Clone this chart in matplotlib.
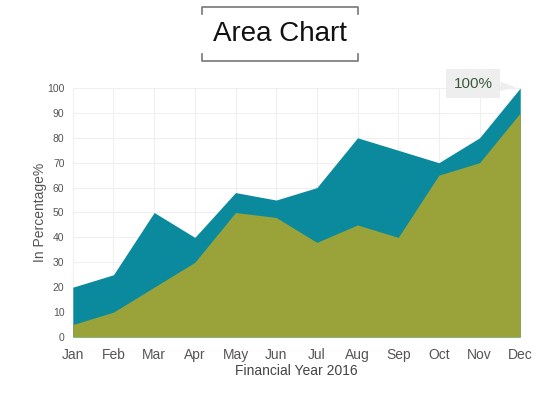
import matplotlib.pyplot as plt
from matplotlib.lines import Line2D

plt.rcParams['font.family'] = ['Liberation Sans', 'DejaVu Sans']

months = ['Jan', 'Feb', 'Mar', 'Apr', 'May', 'Jun',
          'Jul', 'Aug', 'Sep', 'Oct', 'Nov', 'Dec']
series_top = [20, 25, 50, 40, 58, 55, 60, 80, 75, 70, 80, 100]
series_bottom = [5, 10, 20, 30, 50, 48, 38, 45, 40, 65, 70, 90]
y_ticks = list(range(0, 101, 10))

teal = '#0a8a9c'
olive = '#9aa23a'

fig = plt.figure(figsize=(5.6, 4.2), dpi=100)
ax = fig.add_axes([0.130, 0.1976, 0.799, 0.5929])

x = list(range(len(months)))
ax.fill_between(x, series_top, color=teal, linewidth=0, zorder=2)
ax.fill_between(x, series_bottom, color=olive, linewidth=0, zorder=3)

ax.set_xlim(0, len(months) - 1)
ax.set_ylim(0, 100)
ax.set_xticks(x)
ax.set_xticklabels(months, fontsize=10, color='#555555')
ax.set_yticks(y_ticks)
ax.set_yticklabels([str(v) for v in y_ticks], fontsize=7.5, color='#555555')
ax.tick_params(axis='x', length=0, pad=8)
ax.tick_params(axis='y', length=0, pad=6)
ax.grid(color='#efefef', linewidth=0.8, zorder=0)
ax.set_axisbelow(True)
for s in ax.spines.values():
    s.set_visible(False)
ax.set_xlabel('Financial Year 2016', fontsize=10, color='#444444', labelpad=1)
ax.set_ylabel('In Percentage%', fontsize=10, color='#555555', labelpad=0)

# callout for the last value
ax.annotate('100%', xy=(len(months) - 1, series_top[-1]),
            xytext=(-34, 3), textcoords='offset points',
            fontsize=11, color='#3d5a3d', ha='center', va='center',
            bbox=dict(boxstyle='square,pad=0.5', fc='#eeeeee', ec='none'),
            arrowprops=dict(arrowstyle='wedge,tail_width=0.6', fc='#eeeeee',
                            ec='none', shrinkA=0, shrinkB=3),
            annotation_clip=False, zorder=5)

# title with bracket frame
fig.text(0.5, 0.918, 'Area Chart', fontsize=20, ha='center', va='center', color='#111111')
x0, x1 = 202 / 560, 358 / 560
yt, yb = 1 - 7 / 420, 1 - 61 / 420
tick = 7 / 420
for yy, d in ((yt, -tick), (yb, tick)):
    fig.add_artist(Line2D([x0, x0, x1, x1], [yy + d, yy, yy, yy + d],
                          transform=fig.transFigure, color='#777777', lw=1.2))

fig.savefig('out.png', dpi=100)
